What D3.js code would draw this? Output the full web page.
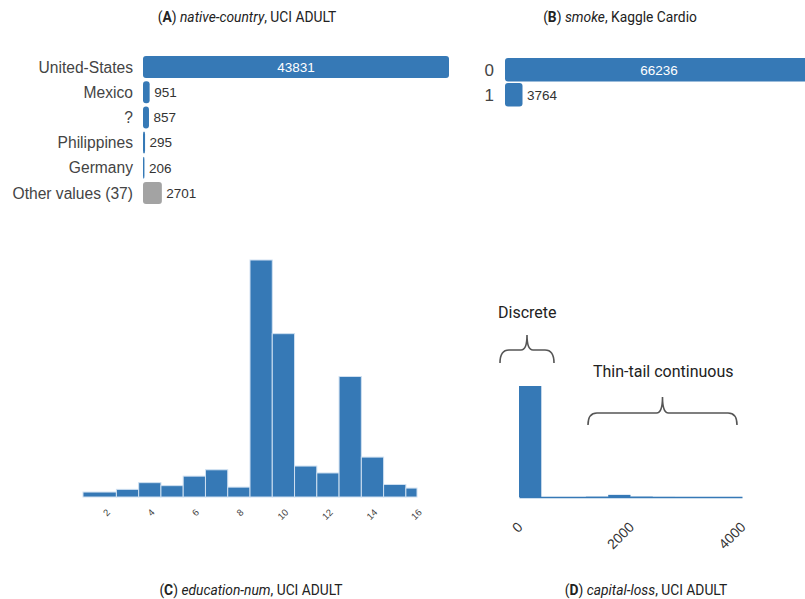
<!DOCTYPE html>
<html>
<head>
<meta charset="utf-8">
<script src="https://cdn.jsdelivr.net/npm/d3@7"></script>
<style>
  body { margin: 0; background: #fff; }
  svg { display: block; }
</style>
</head>
<body>
<svg id="chart" width="805" height="599"></svg>
<script>
// (A) native-country value counts
const countryNames = ["United-States", "Mexico", "?", "Philippines", "Germany", "Other values (37)"];
const countryCounts = [43831, 951, 857, 295, 206, 2701];
const countryOther = [false, false, false, false, false, true];

// (B) smoke value counts
const smokeNames = ["0", "1"];
const smokeCounts = [66236, 3764];

// (C) education-num histogram: bin edges and counts
const eduEdges = [1, 2.5, 3.5, 4.5, 5.5, 6.5, 7.5, 8.5, 9.5, 10.5, 11.5, 12.5, 13.5, 14.5, 15.5, 16];
const eduCounts = [330, 509, 955, 756, 1389, 1812, 657, 15784, 10878, 2061, 1601, 8025, 2657, 834, 594];
const eduTicks = [2, 4, 6, 8, 10, 12, 14, 16];

// (D) capital-loss histogram: bin edges and counts
const lossEdges = [0, 400, 800, 1200, 1600, 2000, 2400, 2800, 3200, 3600, 4000];
const lossCounts = [46560, 10, 8, 120, 900, 150, 30, 10, 5, 6];
const lossTicks = [0, 2000, 4000];

const BLUE = "#3679b6";
const GRAY = "#a3a3a3";
const LABEL_FONT = "'Liberation Sans', Arial, Helvetica, sans-serif";
const TITLE_FONT = "Roboto, 'Noto Sans', sans-serif";

const svg = d3.select("#chart");
svg.append("rect").attr("width", 805).attr("height", 599).attr("fill", "#fff");

// Panel title: bold letter, italic column name, plain dataset name
function title(cx, y, letter, column, dataset) {
  const t = svg.append("text")
    .attr("x", cx).attr("y", y)
    .attr("text-anchor", "middle")
    .attr("font-family", TITLE_FONT)
    .attr("font-size", 13.8)
    .attr("fill", "#222");
  t.append("tspan").text("(");
  t.append("tspan").attr("font-weight", "bold").text(letter);
  t.append("tspan").text(") ");
  t.append("tspan").attr("font-style", "italic").text(column);
  t.append("tspan").text(", " + dataset);
}

// Horizontal bar chart of category counts
function barPanel(names, counts, grayFlags, xRange, yRange, labelX, labelSize) {
  const data = names.map((n, i) => ({ name: n, value: counts[i], other: grayFlags ? grayFlags[i] : false }));
  const x = d3.scaleLinear().domain([0, d3.max(counts)]).range(xRange);
  const y = d3.scaleBand().domain(names).range([yRange[0], yRange[1]]).paddingInner(yRange[2]).paddingOuter(0);
  const g = svg.append("g");

  g.selectAll("rect").data(data).join("rect")
    .attr("x", x(0))
    .attr("y", d => y(d.name))
    .attr("width", d => x(d.value) - x(0))
    .attr("height", y.bandwidth())
    .attr("rx", 3).attr("ry", 3)
    .attr("fill", d => d.other ? GRAY : BLUE);

  g.selectAll("text.cat").data(data).join("text")
    .attr("class", "cat")
    .attr("x", labelX)
    .attr("y", d => y(d.name) + y.bandwidth() / 2)
    .attr("dy", "0.36em")
    .attr("text-anchor", "end")
    .attr("font-family", LABEL_FONT)
    .attr("font-size", labelSize)
    .attr("fill", "#444")
    .text(d => d.name);

  const maxV = d3.max(counts);
  g.selectAll("text.val").data(data).join("text")
    .attr("class", "val")
    .attr("x", d => d.value === maxV ? (x(0) + x(d.value)) / 2 : x(d.value) + 4.5)
    .attr("y", d => y(d.name) + y.bandwidth() / 2)
    .attr("dy", "0.36em")
    .attr("text-anchor", d => d.value === maxV ? "middle" : "start")
    .attr("font-family", LABEL_FONT)
    .attr("font-size", 13.5)
    .attr("fill", d => d.value === maxV ? "#fff" : "#333")
    .text(d => d.value);
}

// Histogram from explicit bin edges
function histPanel(edges, counts, xDomain, xRange, yRange, ticks, opts) {
  const bins = counts.map((c, i) => ({ x0: edges[i], x1: edges[i + 1], value: c }));
  const x = d3.scaleLinear().domain(xDomain).range(xRange);
  const y = d3.scaleLinear().domain([0, d3.max(counts)]).range(yRange);
  const g = svg.append("g");

  g.selectAll("rect").data(bins).join("rect")
    .attr("x", d => x(d.x0))
    .attr("y", d => y(d.value))
    .attr("width", d => x(d.x1) - x(d.x0))
    .attr("height", d => y(0) - y(d.value))
    .attr("fill", BLUE)
    .attr("stroke", opts.stroke)
    .attr("stroke-width", opts.stroke === "none" ? 0 : 1);

  const axis = g.append("g")
    .attr("transform", `translate(0,${y(0)})`)
    .call(d3.axisBottom(x).tickValues(ticks).tickSize(0).tickFormat(d3.format("d")));
  if (opts.domainLine) {
    axis.select(".domain").attr("stroke", BLUE).attr("stroke-width", 1.5);
  } else {
    axis.select(".domain").remove();
  }
  axis.selectAll(".tick text")
    .attr("x", 0).attr("y", 0).attr("dy", 0)
    .attr("transform", `translate(${opts.labelDx},${opts.labelDy}) rotate(-45)`)
    .attr("text-anchor", "end")
    .attr("font-family", LABEL_FONT)
    .attr("font-size", opts.labelSize)
    .attr("fill", opts.labelColor);
  return { x, y };
}

// Curly brace opening downward, tip at top centre
function brace(x1, x2, yEnd, yMid, yTip) {
  const xc = (x1 + x2) / 2;
  const r = 9, rc = 6;
  const p = d3.path();
  p.moveTo(x1, yEnd);
  p.quadraticCurveTo(x1, yMid, x1 + r, yMid);
  p.lineTo(xc - rc, yMid);
  p.quadraticCurveTo(xc, yMid, xc, yTip);
  p.quadraticCurveTo(xc, yMid, xc + rc, yMid);
  p.lineTo(x2 - r, yMid);
  p.quadraticCurveTo(x2, yMid, x2, yEnd);
  svg.append("path")
    .attr("d", p.toString())
    .attr("fill", "none")
    .attr("stroke", "#555")
    .attr("stroke-width", 1.6);
}

// Titles
title(247, 22, "A", "native-country", "UCI ADULT");
title(620, 22, "B", "smoke", "Kaggle Cardio");
title(251, 595, "C", "education-num", "UCI ADULT");
title(646, 595, "D", "capital-loss", "UCI ADULT");

// (A) and (B)
barPanel(countryNames, countryCounts, countryOther, [143, 449], [56, 204, 0.127], 133, 15.6);
barPanel(smokeNames, smokeCounts, null, [505, 813], [58, 106.5, 0.06], 494, 17);

// (C)
histPanel(eduEdges, eduCounts, [1, 16], [83, 417], [497, 260], eduTicks,
  { stroke: "#cfe0f1", domainLine: false, labelDx: 5, labelDy: 16, labelSize: 9.5, labelColor: "#444" });

// (D)
histPanel(lossEdges, lossCounts, [0, 4000], [519, 742], [497, 386], lossTicks,
  { stroke: "none", domainLine: true, labelDx: 4, labelDy: 31, labelSize: 14, labelColor: "#333" });

// Annotations on (D)
svg.append("text")
  .attr("x", 498).attr("y", 318)
  .attr("font-family", TITLE_FONT).attr("font-size", 16).attr("fill", "#222")
  .text("Discrete");
brace(500, 554, 363, 350, 335);

svg.append("text")
  .attr("x", 593).attr("y", 377)
  .attr("font-family", TITLE_FONT).attr("font-size", 16).attr("fill", "#222")
  .text("Thin-tail continuous");
brace(588, 737, 425, 413, 397);
</script>
</body>
</html>
